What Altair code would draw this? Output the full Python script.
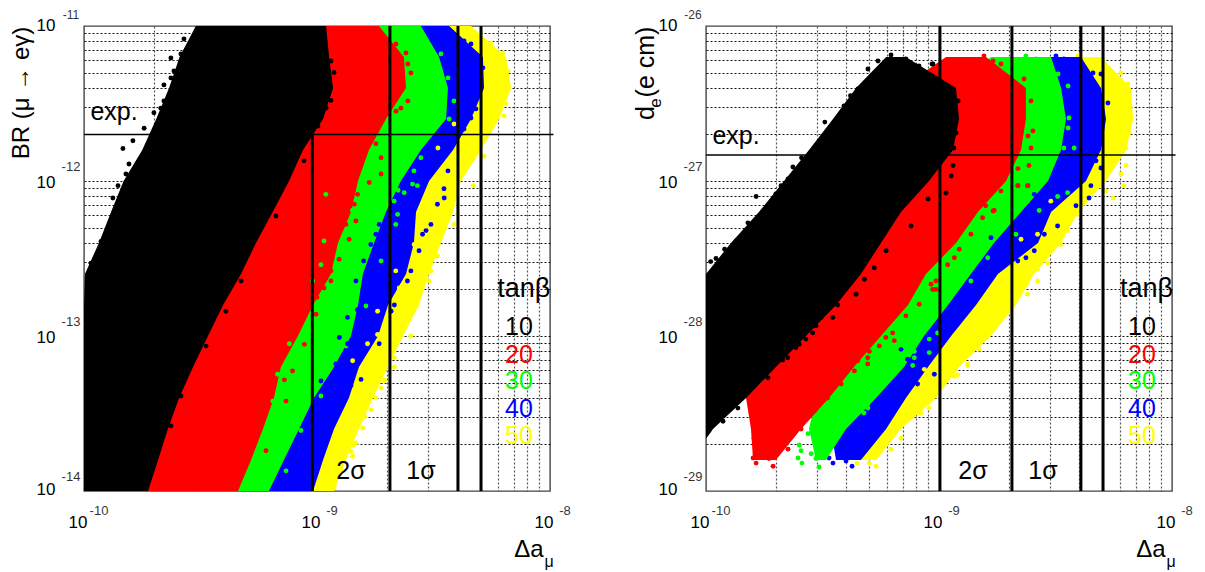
import altair as alt
import pandas as pd

# x values: decades above 1e-10; y values: log10 of the quantity
Y_L = [-11, -11.2, -11.4, -11.6, -11.8, -12, -12.2, -12.4, -12.6, -12.8, -13, -13.2, -13.4, -13.6, -13.8, -14]
L_BLACK_LO = [.48, .41, .365, .31, .25, .17, .116, .064, .004, 0, 0, 0, 0, 0, 0, 0]
L_BLACK_HI = [1.039, 1.052, 1.069, 1.026, .94, .88, .81, .738, .674, .597, .532, .468, .408, .36, .318, .275]
L_RED_HI = [1.266, 1.373, 1.382, 1.296, 1.223, 1.176, 1.146, 1.09, 1.06, .983, .918, .845, .815, .768, .717, .661]
L_GREEN_HI = [1.446, 1.524, 1.562, 1.554, 1.446, 1.36, 1.296, 1.245, 1.197, 1.176, 1.146, 1.073, .987, .923, .858, .794]
L_BLUE_HI = [1.567, 1.712, 1.717, 1.661, 1.584, 1.481, 1.425, 1.416, 1.382, 1.305, 1.262, 1.18, 1.137, 1.073, 1.026, .983]
L_YELLOW_HI = [1.661, 1.811, 1.833, 1.781, 1.704, 1.618, 1.584, 1.532, 1.481, 1.438, 1.369, 1.305, 1.24, 1.18, 1.124, 1.073]
L_LO = [.5, .5, .4, .35, .3, .2, .15, .1, .05, 0, 0, 0, 0, 0, 0, 0]

L_BLACK_PTS = [(.373,-11.206),(.373,-11.335),(.343,-11.38),(.30,-11.56),(.258,-11.66),(.167,-11.79),(.21,-11.74),(.193,-11.89),(.18,-11.955),(.146,-12.03),(.124,-12.11),(.429,-11.084),(.416,-11.18),(.073,-12.39),(.03,-12.53),(.116,-12.29),
 (.33,-11.53),(.343,-11.484),(.386,-11.29),(.425,-11.194),(.09,-12.42),(.12,-12.33),(.15,-12.2),(.05,-12.5),
 (1.073,-11.3),(1.06,-11.226),(1.06,-11.48),(1.039,-11.53),(1.017,-11.59),(1.004,-11.645),(.944,-11.87),(1.004,-11.42),(1.03,-11.16),(.824,-12.226),(.674,-12.645),(.609,-12.84),(.524,-13.065),(.416,-13.387),(.373,-13.58)]
L_RED_PTS = [(1.339,-11.116),(1.382,-11.174),(1.348,-11.206),(1.39,-11.245),(1.339,-11.303),(1.403,-11.303),(1.36,-11.374),(1.339,-11.45),(1.39,-11.484),(1.339,-11.55),(1.36,-11.53),(1.253,-11.76),(1.275,-11.85),(1.2,-11.787),(1.275,-11.955),
 (1.174,-12.086),(1.16,-12.15),(1.167,-12.258),(1.124,-12.28),(1.138,-12.376),(1.095,-12.505),(1.06,-12.58),(1.06,-12.645),(1.03,-12.69),(1.0,-12.75),(1.224,-12.01),(.86,-13.283),(.895,-13.226),(.946,-13.054),(.996,-12.86),(.931,-12.828),(.867,-13.42),(.781,-13.74)]
L_GREEN_PTS = [(1.468,-11.097),(1.532,-11.18),(1.519,-11.27),(1.562,-11.335),(1.545,-11.44),(1.588,-11.484),(1.524,-11.57),(1.567,-11.6),(1.502,-11.66),(1.446,-11.85),(1.416,-11.935),(1.348,-12.06),(1.346,-12.215),(1.331,-12.13),(1.374,-12.075),(1.338,-12.28),(1.431,-12.03),(1.41,-12.02),(1.275,-12.516),(1.21,-12.806),(1.124,-13.065),(1.017,-13.387),(.931,-13.61),(.867,-13.87)]
L_BLUE_PTS = [(1.631,-11.097),(1.661,-11.116),(1.631,-11.206),(1.712,-11.27),(1.661,-11.355),(1.691,-11.34),(1.631,-11.42),(1.691,-11.44),(1.631,-11.535),(1.682,-11.535),(1.631,-11.6),(1.661,-11.594),(1.631,-11.665),(1.562,-11.935),(1.545,-12.05),(1.468,-12.32),(1.403,-12.58),(1.318,-12.84),(1.232,-13.03),(1.146,-13.32)]
L_YELLOW_PTS = [(1.747,-11.11),(1.798,-11.174),(1.82,-11.29),(1.798,-11.355),(1.811,-11.503),(1.747,-11.55),(1.803,-11.58),(1.734,-11.69),(1.717,-11.84),(1.67,-12.03),(1.603,-12.215),(1.589,-12.28),(1.517,-12.41),(1.517,-12.484),(1.489,-12.58),(1.481,-12.645),(1.403,-13),(1.332,-13.14),(1.332,-13.2),(1.289,-13.29),(1.202,-13.516),(1.155,-13.703),(1.103,-13.87),
 (1.289,-13.282),(1.253,-13.40),(1.231,-13.475),(1.196,-13.594),(1.167,-13.69),(1.153,-13.776),(1.074,-13.98),(1.274,-13.336),(1.203,-13.52),(1.145,-13.744)]
L_GREEN_OVER = [(1.03,-12.387),(1.017,-12.54),(1.038,-12.086),(1.152,-12.19),(.981,-12.645),(.91,-13.075),(.881,-13.05),(.888,-13.14),(.831,-13.247),(.81,-13.42),(.817,-13.484)]
L_BLUE_OVER = [(1.231,-12.41),(1.2,-12.516),(1.167,-12.645),(1.267,-12.28),(1.253,-12.344),(1.096,-13.01),(1.131,-13.05),(1.081,-13.18),(1.053,-13.28),(1.017,-13.29),(1.01,-13.47),(1.131,-12.88),(1.174,-12.83),
 (1.517,-12.15),(1.489,-12.28),(1.546,-12.11),(1.453,-12.344),(1.438,-12.45),(1.388,-12.645),(1.189,-13.28),(1.267,-13.05),(1.332,-12.8)]
L_YELLOW_OVER = [(1.519,-11.787),(1.562,-11.87),(1.498,-12.065),(1.588,-11.632),(1.431,-12.344),(1.474,-12.215),(1.417,-12.41),(1.338,-12.58),(1.353,-12.69),(1.26,-12.99),(1.217,-13.05),(1.26,-12.84),(1.153,-13.16),(1.146,-13.47)]

Y_R = [-26.2, -26.4, -26.6, -26.8, -27, -27.2, -27.4, -27.6, -27.8, -28, -28.2, -28.4, -28.6, -28.8]
R_BLACK_Y = [-26.2, -26.4, -26.6, -26.8, -27, -27.2, -27.4, -27.6, -27.8, -28, -28.2, -28.4, -28.6, -28.66]
R_BLACK_LO = [.773, .644, .545, .442, .335, .227, .107, 0, 0, 0, 0, 0, 0, 0]
R_BLACK_HI = [.858, 1.073, 1.086, 1.06, .957, .837, .751, .665, .558, .429, .3, .172, .03, .002]
R_RED_LO = [1.03, .837, .622, .536, .494, .451, .365, .279, .236, .193, .172, .172, .193, .202]
R_RED_HI = [1.202, 1.373, 1.373, 1.352, 1.288, 1.167, 1.073, .944, .867, .751, .635, .528, .408, .3]
R_GREEN_LO = [1.223, 1.052, .966, .88, .837, .773, .708, .665, .601, .558, .515, .472, .442, .472]
R_GREEN_HI = [1.481, 1.524, 1.545, 1.524, 1.468, 1.352, 1.236, 1.137, 1.039, .936, .85, .73, .601, .515]
R_BLUE_LO = [1.373, 1.266, 1.18, 1.094, 1.009, .923, .837, .773, .708, .665, .622, .579, .536, .558]
R_BLUE_HI = [1.609, 1.695, 1.717, 1.695, 1.631, 1.481, 1.425, 1.253, 1.159, 1.052, .953, .858, .773, .665]
R_YELLOW_LO = [1.567, 1.481, 1.395, 1.309, 1.223, 1.137, 1.052, .966, .88, .815, .751, .708, .665, .665]
R_YELLOW_HI = [1.695, 1.824, 1.833, 1.803, 1.717, 1.597, 1.524, 1.408, 1.33, 1.223, 1.086, .987, .837, .73]

R_BLACK_PTS = [(.738,-26.226),(.695,-26.277),(.652,-26.406),(.592,-26.516),(.571,-26.58),(.528,-26.677),(.494,-26.76),(.451,-26.826),(.373,-26.91),(.352,-26.987),(.322,-27.03),(.3,-27.084),(.215,-27.1),(.236,-27.226),(.129,-27.387),(.043,-27.5),
 (.62,-26.45),(.51,-26.62),(.41,-26.85),(.28,-27.13),(.18,-27.27),(.08,-27.44),(.02,-27.52),
 (.052,-28.53),(.137,-28.465),(.193,-28.31),(.266,-28.27),(.073,-28.55),(.013,-28.61),(.794,-26.187),(.858,-26.213),(.914,-26.258),(.97,-26.245),
 (1.082,-26.484),(1.073,-26.69),(1.064,-26.787),(1.06,-26.9),(1.052,-26.968),(1.03,-27.077),(.974,-26.245),(1.043,-26.465),(.953,-27.116),(.88,-27.29),(.773,-27.45),
 (.722,-27.56),(.68,-27.634),(.651,-27.54),(.644,-27.731),(.572,-27.742),(.565,-27.8),(.544,-27.88),(.494,-27.88),(.472,-27.935),(.458,-27.98),(.429,-28.02),(.4,-28.053),(.386,-28.075),(.351,-28.14),(.329,-28.155)]
R_RED_PTS = [(1.052,-26.226),(1.193,-26.194),(1.232,-26.226),(1.266,-26.245),(1.137,-26.22),(1.365,-26.342),(1.395,-26.484),(1.352,-26.594),(1.403,-26.677),(1.382,-26.71),(1.395,-26.787),(1.386,-26.9),(1.339,-26.92),(1.382,-27.03),(1.339,-27.03),(1.232,-27.194),
 (1.237,-27.19),(1.187,-27.237),(1.137,-27.344),(1.123,-27.258),(1.087,-27.44),(1.066,-27.495),(1.037,-27.54),(.987,-27.645),(.973,-27.7),(1.266,-27.065),(1.338,-27.03),(1.38,-27.03),(1.2,-27.16),
 (.966,-27.666),(.987,-27.7),(.915,-27.795),(.858,-27.87),(.801,-27.98),(.808,-28.03),(.772,-28.01),(.744,-28.064),(.701,-28.1),(.694,-28.18),(.651,-28.16),
 (.58,-28.31),(.522,-28.4),(.465,-28.484),(.422,-28.548),(.637,-28.225),(.694,-28.14),
 (.202,-28.787),(.215,-28.82),(.288,-28.84),(.27,-28.79),(.206,-28.66),(.227,-28.7),(.313,-28.73),(.352,-28.73),(.27,-28.645),(.245,-28.497),(.215,-28.56),(.202,-28.355),(.373,-28.61),(.408,-28.6)]
R_GREEN_PTS = [(1.3,-26.226),(1.373,-26.194),(1.416,-26.213),(1.481,-26.503),(1.502,-26.632),(1.554,-26.658),(1.58,-26.787),(1.536,-26.787),(1.558,-26.594),(1.554,-26.387),(1.511,-26.31),
 (1.38,-27.13),(1.352,-27.1),(1.43,-27.19),(1.33,-27.344),(1.209,-27.495),(1.137,-27.645),(1.509,-27.1),(1.552,-27.075),(.958,-28.02),(.994,-27.98),(.894,-28.1),(.887,-28.19),(.958,-28.107),
 (.894,-28.14),(.808,-28.247),(.751,-28.31),(.694,-28.44),(.651,-28.484),(.608,-28.55),(.58,-28.61),
 (.395,-28.787),(.412,-28.82),(.485,-28.845),(.472,-28.79),(.4,-28.703),(.451,-28.76),(.408,-28.74),(.506,-28.74),(.528,-28.69),(.438,-28.63),(.472,-28.55),(.695,-28.465),(.678,-28.497)]
R_BLUE_PTS = [(1.438,-26.226),(1.502,-26.194),(1.536,-26.213),(1.489,-26.245),(1.622,-26.29),(1.661,-26.303),(1.695,-26.31),(1.725,-26.497),(1.682,-26.484),(1.687,-26.613),(1.695,-26.71),(1.631,-26.71),(1.64,-26.6),(1.622,-26.4),(1.674,-26.87),(1.695,-26.916),(1.652,-27.03),(1.644,-27.11),
 (.98,-28.247),(.908,-28.31),(.837,-28.42),(.78,-28.516),(.722,-28.61),(.751,-28.57),
 (.528,-28.787),(.545,-28.82),(.601,-28.806),(.627,-28.84),(.579,-28.72),(.609,-28.774),(.644,-28.73),(.687,-28.697),(.721,-28.66)]
R_YELLOW_PTS = [(1.597,-26.194),(1.652,-26.226),(1.725,-26.303),(1.781,-26.303),(1.811,-26.374),(1.815,-26.484),(1.815,-26.568),(1.815,-26.69),(1.803,-26.787),(1.803,-26.9),(1.781,-26.955),(1.794,-27.03),(1.747,-27.11),(1.717,-27.065),
 (1.595,-27.215),(1.552,-27.32),(1.523,-27.41),(1.466,-27.527),(1.423,-27.57),(1.423,-27.645),(1.373,-27.667),(1.38,-27.73),
 (1.166,-28.06),(1.123,-28.18),(1.08,-28.25),(1.009,-28.29),(.951,-28.4),(.916,-28.494),(.851,-28.548),(.794,-28.645),
 (.73,-28.84),(.7,-28.82),(.648,-28.82),(.678,-28.76),(.751,-28.74),(.794,-28.73),(.837,-28.66),(.923,-28.497),(.957,-28.465),(1.064,-28.26),(1.124,-28.19),(1.172,-28.084)]
R_GREEN_OVER = []
R_BLUE_OVER = [(1.295,-27.376),(1.223,-27.366),(1.195,-27.58),(1.13,-27.69),(1.409,-27.086),(1.38,-27.19),(.865,-28.15),(.837,-28.086),(.944,-28.05),
 (1.452,-27.344),(1.509,-27.29),(1.588,-27.16),(1.409,-27.45),(1.373,-27.495),(1.338,-27.516),(1.566,-27.03)]
R_YELLOW_OVER = [(1.48,-27.13),(1.423,-27.344),(1.352,-27.376),(1.252,-27.645),(1.266,-27.73),(1.338,-27.56),(.937,-28.215),(.966,-28.27)]

L_SIGMA = [.98, 1.313, 1.605, 1.704]
R_SIGMA = [1.004, 1.313, 1.609, 1.704]
L_EXP = -11.7
R_EXP = -26.832
X_END = 2.015

TANB = ["10", "20", "30", "40", "50"]
TANB_COL = ["#000000", "#ff0000", "#00ff00", "#0000ff", "#ffff00"]
TANB_DY = [-.243, -.423, -.593, -.773, -.948]  # below the heading, decades

BLACK, RED, GREEN, BLUE, YELLOW = TANB_COL

W, H = 466, 465


def xv(v):
    return 1e-10 * 10 ** v


def panel(ytop, ybot, ytitle_parts, layers, sigma, exp_y, x_legend):
    xs = alt.Scale(type="log", domain=[1e-10, 1e-8], nice=False)
    ys = alt.Scale(type="log", domain=[10.0 ** ybot, 10.0 ** ytop], nice=False)
    xgrid = [k * 10.0 ** e for e in (-10, -9) for k in range(2, 10)] + [1e-9]
    ygrid = [k * 10.0 ** e for e in range(ybot, ytop) for k in range(2, 10)] + [10.0 ** e for e in range(ybot + 1, ytop)]
    xaxis = alt.Axis(values=xgrid, labels=False, ticks=False, domain=False, title=None, grid=True,
                     gridDash=[2, 2], gridColor="#555555", gridWidth=1.2)
    yaxis = alt.Axis(values=ygrid, labels=False, ticks=False, domain=False, title=None, grid=True,
                     gridDash=[2, 2], gridColor="#111111", gridWidth=1)
    X = alt.X("x:Q", scale=xs, axis=xaxis)
    Y = alt.Y("y:Q", scale=ys, axis=yaxis)
    out = []
    for kind, color, *rest in layers:
        if kind == "band":
            yl, lo, hi = rest
            df = pd.DataFrame({"y": [10.0 ** v for v in yl], "x": [xv(v) for v in lo], "x2": [xv(v) for v in hi]})
            out.append(alt.Chart(df).mark_area(color=color, orient="horizontal", opacity=1, interpolate="linear")
                       .encode(y=Y, x=X, x2="x2:Q"))
        else:
            pts = rest[0]
            if not pts:
                continue
            df = pd.DataFrame({"x": [xv(p[0]) for p in pts], "y": [10.0 ** p[1] for p in pts]})
            out.append(alt.Chart(df).mark_circle(color=color, size=24, opacity=1).encode(x=X, y=Y))

    # vertical sigma bounds and experimental limit
    sig = pd.DataFrame({"x": [xv(v) for v in sigma], "y": [10.0 ** ybot] * 4, "y2": [10.0 ** ytop] * 4})
    out.append(alt.Chart(sig).mark_rule(color="black", strokeWidth=3).encode(x=X, y=Y, y2="y2:Q"))
    ex = pd.DataFrame({"x": [1e-10], "x2": [xv(X_END)], "y": [10.0 ** exp_y]})
    out.append(alt.Chart(ex).mark_rule(color="black", strokeWidth=1.6).encode(x=X, x2="x2:Q", y=Y))

    def text(rows, size, dx=0, dy=0, color="black", **kw):
        df = pd.DataFrame(rows, columns=["x", "y", "t"])
        return alt.Chart(df).mark_text(font="Liberation Sans", fontSize=size, color=color, align="center",
                                       baseline="middle", dx=dx, dy=dy, **kw).encode(x=X, y=Y, text="t:N")

    # axis numbers
    out.append(text([(1e-10, 10.0 ** ybot, "10"), (1e-9, 10.0 ** ybot, "10"), (1e-8, 10.0 ** ybot, "10")], 17, dx=-6, dy=32))
    out.append(text([(1e-10, 10.0 ** ybot, "-10"), (1e-9, 10.0 ** ybot, "-9"), (1e-8, 10.0 ** ybot, "-8")], 13, dx=15, dy=20, opacity=.8))
    for e in range(ybot, ytop + 1):
        d = -1 if e == ybot else (0 if e == ytop else 2)
        out.append(text([(1e-10, 10.0 ** e, "10")], 17, dx=-38, dy=d))
        out.append(text([(1e-10, 10.0 ** e, str(e))], 12 if e == ytop else 13, dx=-13, dy=-11 if e == ytop else -14, opacity=.8))

    # annotations
    out.append(text([(xv(.129), 10.0 ** (exp_y + .145 if ytop == -11 else exp_y + .122), "exp.")], 25))
    out.append(text([(xv(1.146), 10.0 ** (ybot + .13), "2σ"), (xv(1.446), 10.0 ** (ybot + .13), "1σ")], 25))
    leg_y = ytop - 1.697
    out.append(text([(xv(x_legend + .02), 10.0 ** leg_y, "tanβ")], 27))
    for name, col, d in zip(TANB, TANB_COL, TANB_DY):
        out.append(text([(xv(x_legend), 10.0 ** (leg_y + d), name)], 25, color=col))
    out.append(text([(xv(1.91), 10.0 ** ybot, "Δa")], 24, dy=59))
    out.append(text([(xv(1.996), 10.0 ** ybot, "μ")], 16, dy=71))

    # y axis title pieces, rotated
    for s, size, xp, yp in ytitle_parts:
        tdf = pd.DataFrame({"t": [s]})
        out.append(alt.Chart(tdf).mark_text(font="Liberation Sans", fontSize=size, angle=270, align="center",
                                            baseline="middle", color="black")
                   .encode(x=alt.value(xp), y=alt.value(yp), text="t:N"))

    return alt.layer(*out).properties(width=W, height=H)


def stack(y_black, black_lo, black_hi, red, green, blue, yellow, pts):
    return [
        ("band", YELLOW) + yellow, ("pts", YELLOW, pts[4]),
        ("band", BLUE) + blue, ("pts", BLUE, pts[3]),
        ("band", GREEN) + green, ("pts", GREEN, pts[2]),
        ("band", RED) + red, ("pts", RED, pts[1]),
        ("pts", GREEN, pts[5]), ("pts", BLUE, pts[6]), ("pts", YELLOW, pts[7]),
        ("band", BLACK, y_black, black_lo, black_hi), ("pts", BLACK, pts[0]),
    ]


left_layers = stack(Y_L, L_BLACK_LO, L_BLACK_HI,
                    (Y_L, L_LO, L_RED_HI), (Y_L, L_LO, L_GREEN_HI), (Y_L, L_LO, L_BLUE_HI), (Y_L, L_LO, L_YELLOW_HI),
                    (L_BLACK_PTS, L_RED_PTS, L_GREEN_PTS, L_BLUE_PTS, L_YELLOW_PTS, L_GREEN_OVER, L_BLUE_OVER, L_YELLOW_OVER))
right_layers = stack(R_BLACK_Y, R_BLACK_LO, R_BLACK_HI,
                     (Y_R, R_RED_LO, R_RED_HI), (Y_R, R_GREEN_LO, R_GREEN_HI), (Y_R, R_BLUE_LO, R_BLUE_HI), (Y_R, R_YELLOW_LO, R_YELLOW_HI),
                     (R_BLACK_PTS, R_RED_PTS, R_GREEN_PTS, R_BLUE_PTS, R_YELLOW_PTS, R_GREEN_OVER, R_BLUE_OVER, R_YELLOW_OVER))

left = panel(-11, -14, [("BR (μ → eγ)", 24, -62, 67)], left_layers, L_SIGMA, L_EXP, 1.867)
right = panel(-26, -29, [("(e cm)", 25, -60, 36), ("d", 25, -60, 87), ("e", 17, -50, 77)], right_layers, R_SIGMA, R_EXP, 1.871)

chart = (alt.hconcat(left, right, spacing=61)
         .properties(padding={"left": 1, "top": 0, "right": 0, "bottom": 0})
         .configure_view(stroke="#444444", strokeWidth=1.4))
chart.save("out.html", embed_options={"renderer": "svg", "actions": False})
